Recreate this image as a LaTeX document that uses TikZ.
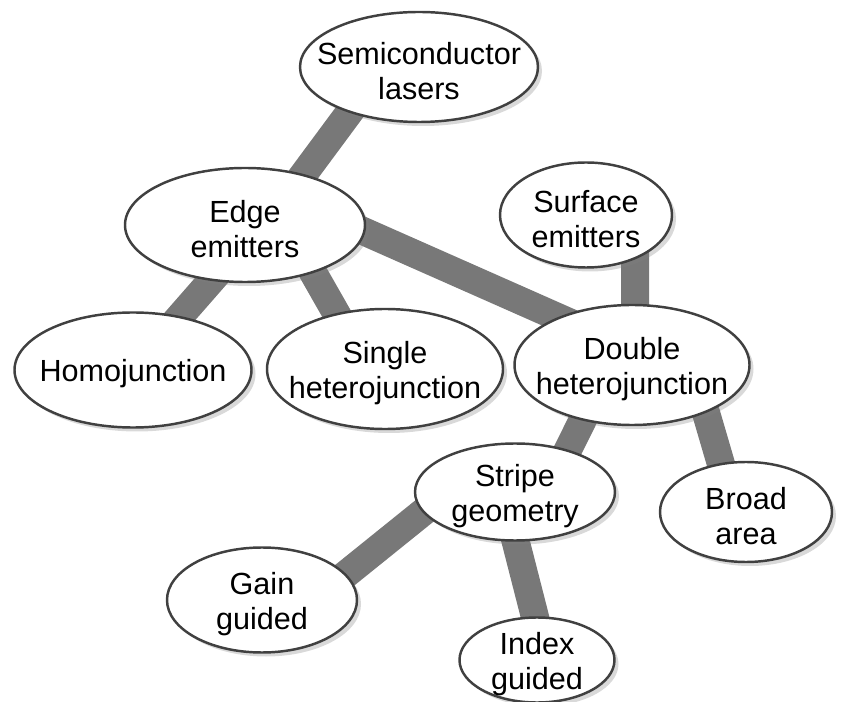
\documentclass[tikz,border=0pt]{standalone}
\usepackage{fontspec}
\setmainfont{Liberation Sans}
\usetikzlibrary{shapes.geometric,backgrounds,shadows}

\begin{document}
\begin{tikzpicture}[
  bubble/.style={ellipse, draw=black!75, line width=0.7pt, fill=white, inner sep=0pt,
    drop shadow={opacity=0.3, shadow xshift=0.04cm, shadow yshift=-0.04cm}},
  txt/.style={align=center, inner sep=0pt, yshift=-0.04cm, font=\fontsize{8.7}{10}\selectfont},
  bar/.style={line width=0.28cm, draw=black!53}]
  \useasboundingbox (0,0) rectangle (8.63,-7.02);
  \node[bubble, minimum width=2.38cm, minimum height=1.10cm] (semi) at (4.19,-0.67) {};
  \node[bubble, minimum width=2.40cm, minimum height=1.14cm] (edge) at (2.45,-2.25) {};
  \node[bubble, minimum width=1.72cm, minimum height=1.05cm] (surf) at (5.86,-2.15) {};
  \node[bubble, minimum width=2.37cm, minimum height=1.15cm] (homo) at (1.33,-3.70) {};
  \node[bubble, minimum width=2.36cm, minimum height=1.20cm] (single) at (3.85,-3.69) {};
  \node[bubble, minimum width=2.35cm, minimum height=1.20cm] (double) at (6.32,-3.65) {};
  \node[bubble, minimum width=2.00cm, minimum height=0.97cm] (stripe) at (5.15,-4.92) {};
  \node[bubble, minimum width=1.72cm, minimum height=1.00cm] (broad) at (7.46,-5.12) {};
  \node[bubble, minimum width=1.90cm, minimum height=1.05cm] (gain) at (2.62,-6.00) {};
  \node[bubble, minimum width=1.55cm, minimum height=0.85cm] (index) at (5.37,-6.60) {};
  \node[txt] (semi-t) at (semi) {Semiconductor\\lasers};
  \node[txt] (edge-t) at (edge) {Edge\\emitters};
  \node[txt] (surf-t) at (surf) {Surface\\emitters};
  \node[txt] (homo-t) at (homo) {Homojunction};
  \node[txt] (single-t) at (single) {Single\\heterojunction};
  \node[txt] (double-t) at (double) {Double\\heterojunction};
  \node[txt] (stripe-t) at (stripe) {Stripe\\geometry};
  \node[txt] (broad-t) at (broad) {Broad\\area};
  \node[txt] (gain-t) at (gain) {Gain\\guided};
  \node[txt] (index-t) at (index) {Index\\guided};
  \begin{scope}[on background layer]
    \draw[bar] ([xshift=-0.36cm]semi.center) -- ([xshift=0.21cm]edge.center);
    \draw[bar] ([xshift=-0.10cm,yshift=-0.03cm]edge.east) -- ([yshift=0.15cm]double.center);
    \draw[bar] ([xshift=0.15cm]edge.center) -- (homo.center);
    \draw[bar] ([xshift=0.41cm]edge.center) -- ([xshift=-0.17cm]single.center);
    \draw[bar] ([xshift=0.49cm]surf.center) -- ([xshift=0.03cm]double.center);
    \draw[bar] ([xshift=-0.22cm]double.center) -- ([xshift=0.32cm]stripe.center);
    \draw[bar] ([xshift=0.60cm]double.center) -- ([xshift=-0.11cm]broad.center);
    \draw[bar] ([xshift=-0.67cm]stripe.center) -- ([xshift=0.52cm]gain.center);
    \draw[bar] ([xshift=-0.12cm]stripe.center) -- ([xshift=0.09cm]index.center);
  \end{scope}
\end{tikzpicture}
\end{document}
